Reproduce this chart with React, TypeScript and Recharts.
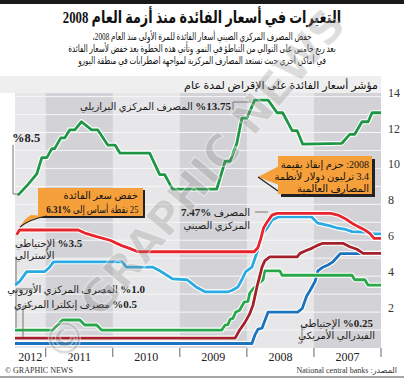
import React from "react";
import { LineChart, Line, XAxis, YAxis, ReferenceArea, ReferenceLine } from "recharts";

// x = months counted from January 2007, y = one-year lending rate in percent
const yearLabels = ["2007", "2008", "2009", "2010", "2011", "2012"];
const yTicks = [2, 4, 6, 8, 10, 12, 14];
const gridValues = [1, 2, 3, 4, 5, 6, 7, 8, 9, 10, 11, 12, 13, 14];
const END = 65.5;

const brazil = [[0,13.1],[1.6,13.1],[2.3,12.6],[3.4,12.6],[4.7,11.9],[5.6,11.9],[7,11.4],[14,11.35],[15,12.1],[15.9,12.1],[17.6,13.1],[18.6,13.1],[20.2,13.8],[22.6,13.8],[24,12.8],[24.9,12.8],[25.8,11.4],[27,10.4],[27.9,10.4],[29.4,8.85],[37.3,8.85],[38.7,9.65],[39.6,9.65],[41.4,10.85],[46.7,10.85],[47.6,11.3],[48.9,11.3],[50.7,12.15],[51.8,12.15],[53.6,12.6],[54.8,12.15],[55.7,12.15],[56.6,11.7],[57.3,11.7],[58.4,11.1],[58.9,11.1],[59.8,10.6],[60.7,10.6],[61.6,9.7],[63.2,9.1],[65,8.5]];
const china = [[0,6.1],[1.25,6.1],[2,6.38],[2.9,6.57],[4.1,6.76],[5.2,6.95],[6.4,7.2],[7.7,7.4],[9,7.5],[18.6,7.5],[19.5,7.4],[20.4,7.0],[21,6.7],[21.5,6.1],[22,5.6],[22.7,5.36],[43.5,5.36],[45,5.55],[46.4,5.7],[48.5,6.0],[50.9,6.2],[53,6.4],[54.2,6.57],[64.7,6.57],[65.2,6.31]];
const australia = [[0,6.35],[1.6,6.35],[2.9,6.45],[5.2,6.48],[6.3,6.6],[7.7,6.67],[9.1,6.8],[11.3,6.95],[12.4,7.3],[18.4,7.3],[19.5,7.13],[20.2,6.76],[21.3,6.3],[22,5.5],[23.1,4.5],[24.2,4.25],[24.9,3.8],[25.6,3.4],[26.7,3.2],[27.4,3.13],[31.5,3.13],[33.1,3.4],[34.7,3.8],[37.3,3.85],[39.6,4.3],[40.8,4.5],[45.5,4.5],[46.4,4.8],[58.6,4.8],[59.3,4.5],[60.2,4.25],[63.4,4.25],[64.7,3.7],[65.5,3.5]];
const ecb = [[0,3.5],[2.3,3.5],[2.9,3.8],[4.7,3.8],[5.2,4.05],[17.7,4.05],[18.1,4.3],[20.8,4.3],[21.1,3.8],[22,3.55],[22.9,3.3],[23.5,3.05],[23.8,2.6],[24.5,2.55],[25.3,2.1],[26,2.0],[26.5,1.65],[27,1.6],[27.4,1.3],[27.9,1.28],[28.5,1.0],[50,1.0],[50.9,1.28],[53,1.28],[53.9,1.56],[57,1.56],[57.9,1.28],[58.7,1.0],[65.5,1.0]];
const boe = [[0,5.27],[3.2,5.27],[4.3,5.5],[5.6,5.64],[6.8,5.83],[10.4,5.83],[11.5,5.7],[12.4,5.55],[13.6,5.4],[14.5,5.27],[15,5.08],[19.9,5.08],[20.8,4.85],[21.3,4.5],[21.7,4.0],[22.2,3.4],[22.9,2.4],[23.5,1.9],[24.4,1.4],[25.3,1.0],[26.1,0.55],[65.5,0.55]];
const fed = [[0,5.25],[7.3,5.25],[8.6,4.8],[9.5,4.62],[10.4,4.5],[11.3,4.3],[11.8,3.7],[12.7,3.2],[13.3,2.9],[14.1,2.2],[14.9,2.0],[20.2,2.0],[21.3,1.1],[22,1.05],[22.6,0.7],[23.1,0.25],[65.5,0.25]];

const toPoints = (s: number[][]) => s.map(([m, v]) => ({ m, v }));

const series = [
  { key: "fed", data: fed, color: "#1b72bd" },
  { key: "brazil", data: brazil, color: "#1f9646" },
  { key: "ecb", data: ecb, color: "#28a84a" },
  { key: "australia", data: australia, color: "#2aaae2" },
  { key: "boe", data: boe, color: "#a5202b" },
  { key: "china", data: china, color: "#e8232b" },
];

const FONT = "'Liberation Serif', 'DejaVu Sans', serif";
const ORANGE = "#f6a03b";

const xTicks = yearLabels.flatMap((_, i) => [i * 12, Math.min(i * 12 + 6, (i * 12 + END) / 2)]);

const YearTick = (props: any) => {
  const { x, y, payload } = props;
  const v = payload.value;
  if (v % 12 === 0) return <line x1={x} x2={x} y1={y} y2={y + 9} stroke="#666" />;
  return (
    <text x={x} y={y + 13} textAnchor="middle" fontSize={12} fill="#222" fontFamily={FONT}>
      {yearLabels[Math.floor(v / 12)]}
    </text>
  );
};

const RateTick = (props: any) => {
  const { x, y, payload } = props;
  return (
    <text x={x + 7} y={y} textAnchor="start" fontSize={12} fill="#333" fontFamily={FONT}>
      {payload.value}
    </text>
  );
};

// positioned text line; r = right edge, l = left edge, y = vertical centre
const T = (p: { r?: number; l?: number; y: number; size?: number; children: any; c?: string; w?: any; sx?: number }) => (
  <div
    style={{
      position: "absolute",
      right: p.r !== undefined ? 404 - p.r : undefined,
      left: p.l,
      top: p.y - 7,
      height: 14,
      lineHeight: "14px",
      fontSize: p.size ?? 10,
      color: p.c ?? "#222",
      fontWeight: p.w ?? "normal",
      direction: "rtl",
      whiteSpace: "nowrap",
      fontFamily: FONT,
      transform: p.sx ? `scaleX(${p.sx})` : undefined,
      transformOrigin: p.r !== undefined ? "right center" : "left center",
    }}
  >
    {p.children}
  </div>
);

const Centered = (p: { y: number; size: number; w?: any; sx: number; children: any }) => (
  <div
    style={{
      position: "absolute",
      left: 0,
      width: 404,
      top: p.y - p.size * 0.7,
      lineHeight: `${p.size * 1.4}px`,
      textAlign: "center",
      direction: "rtl",
      whiteSpace: "nowrap",
      fontFamily: FONT,
      fontWeight: p.w ?? "normal",
      fontSize: p.size,
      color: "#111",
      transform: `scaleX(${p.sx})`,
      transformOrigin: "202px center",
    }}
  >
    {p.children}
  </div>
);

export default function App() {
  return (
    <div style={{ position: "absolute", left: 0, top: 0, width: 404, height: 379, background: "#fff", overflow: "hidden" }}>
      <LineChart width={404} height={379} margin={{ top: 93, right: 0, bottom: 0, left: 15 }}>
        <XAxis
          type="number"
          dataKey="m"
          domain={[0, END]}
          reversed
          allowDataOverflow
          ticks={xTicks}
          interval={0}
          tick={<YearTick />}
          tickLine={false}
          axisLine={false}
          tickSize={0}
          tickMargin={0}
          height={31}
        />
        <YAxis
          orientation="right"
          type="number"
          domain={[0, 14.2]}
          ticks={yTicks}
          interval={0}
          tick={<RateTick />}
          tickLine={false}
          axisLine={false}
          tickSize={0}
          tickMargin={0}
          width={23}
        />
        <ReferenceArea x1={0} x2={END} y1={0} y2={14.2} fill="#e7e7e9" fillOpacity={1} stroke="none" />
        {yearLabels.map((_, i) =>
          i % 2 === 0 ? (
            <ReferenceArea key={i} x1={i * 12} x2={Math.min(i * 12 + 12, END)} y1={0} y2={14.2} fill="#d3d3d7" fillOpacity={1} stroke="none" />
          ) : null
        )}
        {gridValues.map((g) => (
          <ReferenceLine key={g} y={g} stroke="#f6f6f6" strokeWidth={1} />
        ))}
        {series.flatMap((s) => [
          <Line key={s.key + "-halo"} data={toPoints(s.data)} dataKey="v" type="linear" stroke="#ffffff" strokeWidth={5} dot={false} isAnimationActive={false} strokeLinejoin="round" />,
          <Line key={s.key} data={toPoints(s.data)} dataKey="v" type="linear" stroke={s.color} strokeWidth={2.8} dot={false} isAnimationActive={false} strokeLinejoin="round" />,
        ])}
      </LineChart>

      <svg width={404} height={379} style={{ position: "absolute", left: 0, top: 0 }}>
        <rect x={0} y={0} width={404} height={4} fill="#1a1a1a" />
        <rect x={0} y={76} width={381} height={17} fill="#efefef" />
        <line x1={0} x2={404} y1={377} y2={377} stroke="#888" strokeWidth={1.5} />
        {/* connectors */}
        <g stroke="#777" strokeWidth={1} fill="none">
          <polyline points="233,110 233,102 251,102" />
          <line x1={255} x2={268} y1={212} y2={212} />
          <polyline points="13,145 13,194 18,194" />
          <polyline points="16,257 16,283" />
          <polyline points="33,289 16,289 16,328" />
          <polyline points="33,306 23,306 23,337" />
          <polyline points="298,343 302,343 302,327 306,327" />
        </g>
        {/* callouts */}
        <rect x={40} y={190} width={105} height={28} fill="#222" />
        <rect x={38} y={188} width={105} height={28} fill={ORANGE} />
        <path d="M31 215 Q24 219 20 227 Q30 219 47 216 Z" fill={ORANGE} />
        <path d="M20 227 Q30 219 47 216" stroke="#222" strokeWidth={1.2} fill="none" />
        <rect x={281} y={159} width={94} height={38} fill="#222" />
        <rect x={278} y={156} width={94} height={38} fill={ORANGE} />
        <path d="M279 166 L258 177 L279 185 Z" fill={ORANGE} />
        <line x1={258} y1={177} x2={278} y2={191} stroke="#222" strokeWidth={1.2} />
      </svg>

      <Centered y={18} size={17} w="bold" sx={0.75}>التغيرات في أسعار الفائدة منذ أزمة العام 2008</Centered>
      <Centered y={37} size={10} sx={0.72}>خفض المصرف المركزي الصيني أسعار الفائدة للمرة الأولى منذ العام 2008،</Centered>
      <Centered y={49} size={10} sx={0.72}>بعد ربع خامس على التوالي من التباطؤ في النمو. وتأتي هذه الخطوة بعد خفض لأسعار الفائدة</Centered>
      <Centered y={61} size={10} sx={0.72}>في أماكن أخرى حيث تستعد المصارف المركزية لمواجهة اضطرابات في منطقة اليورو</Centered>
      <T r={378} y={85} size={11} c="#111">مؤشر أسعار الفائدة على الإقراض لمدة عام</T>

      <T r={231} y={106} size={10}><b style={{ fontSize: 11 }}>%13.75</b> المصرف المركزي البرازيلي</T>
      <T l={12} y={138} size={12.5} w="bold">%8.5</T>
      <T r={250} y={212} size={10}>المصرف <b style={{ fontSize: 11 }}>%7.47</b></T>
      <T r={250} y={226} size={10}>المركزي الصيني</T>
      <T l={15} y={243} size={10}><b style={{ fontSize: 11 }}>%3.5</b> الإحتياطي</T>
      <T l={15} y={256} size={10}>الأسترالي</T>
      <T r={145} y={289} size={10}><b style={{ fontSize: 11 }}>%1.0</b> المصرف المركزي الأوروبي</T>
      <T r={137} y={304} size={10}><b style={{ fontSize: 11 }}>%0.5</b> مصرف إنكلترا المركزي</T>
      <T r={373} y={323} size={10}><b style={{ fontSize: 11 }}>%0.25</b> الإحتياطي</T>
      <T r={375} y={336} size={10}>الفيدرالي الأمريكي</T>

      <T r={138} y={196} size={10} c="#111">خفض سعر الفائدة</T>
      <T r={138} y={209} size={10} c="#111" sx={0.82}>25 نقطة أساس إلى <b style={{ fontSize: 11 }}>%6.31</b></T>
      <T r={369} y={165} size={10} c="#111">2008: حزم إنقاذ بقيمة</T>
      <T r={369} y={177} size={10} c="#111">3.4 ترليون دولار لأنظمة</T>
      <T r={369} y={189} size={10} c="#111">المصارف العالمية</T>

      <T l={5} y={371} size={8} c="#333">
        <span style={{ direction: "ltr", unicodeBidi: "embed" }}>© GRAPHIC NEWS</span>
      </T>
      <T r={397} y={371} size={8} c="#333">المصدر: National central banks</T>

      <svg width={404} height={379} style={{ position: "absolute", left: 0, top: 0, pointerEvents: "none" }}>
        <text
          x={205}
          y={195}
          transform="rotate(-50 205 195)"
          textAnchor="middle"
          fontSize={44}
          fontWeight="bold"
          fontFamily="'DejaVu Sans', sans-serif"
          fill="#888"
          fillOpacity={0.3}
          stroke="#fff"
          strokeOpacity={0.5}
          strokeWidth={1}
        >
          © GRAPHIC NEWS
        </text>
      </svg>
    </div>
  );
}
